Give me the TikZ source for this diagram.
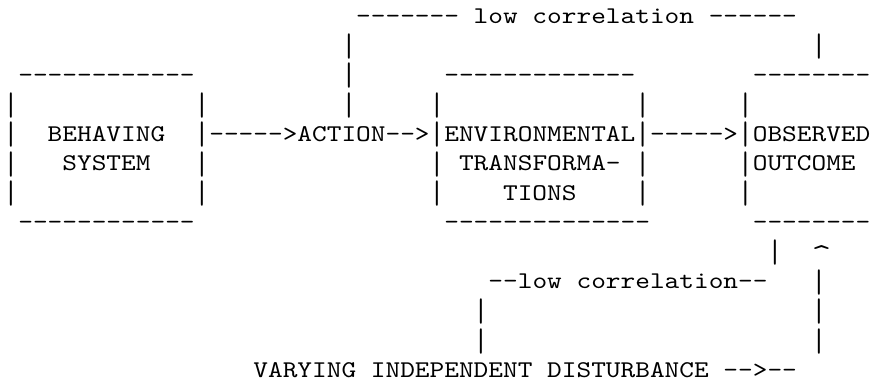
\documentclass[tikz,border=0pt]{standalone}
\usepackage{fontspec}
\usepackage{graphicx}
% typewriter face widened so one character cell is 14.69 units wide
\newfontfamily\asciifont[FakeStretch=1.166,Ligatures=TeXOff]{lmmono10-regular.otf}
% one run of characters at column #2 of text row #3
\newcommand\glyphs[4]{\node[asc] (#1) at ({3.65+14.69*(#2)},{23+29.5*((#3)-1)}) {#4};}
% a taller vertical bar, so stacked bars read as one line
\newcommand\vbar{\raisebox{-3.8pt}{\scalebox{1}[1.36]{|}}}
% a broader caret for the upward arrow head
\newcommand\caret{\raisebox{-4pt}{\scalebox{1.35}[1.2]{\textasciicircum}}}
\begin{document}
\begin{tikzpicture}[x=1pt,y=-1pt,
  asc/.style={anchor=base west,inner sep=0pt,outer sep=0pt,
    font=\asciifont\fontsize{24}{29.5}\selectfont}]
\useasboundingbox (0,0) rectangle (873,381);
% row 1: upper correlation bracket
\glyphs{topdashL}{24}{1}{-------}
\glyphs{toplow}{32}{1}{low}
\glyphs{topcorr}{36}{1}{correlation}
\glyphs{topdashR}{48}{1}{------}
% row 2
\glyphs{actUpA}{23}{2}{\vbar}
\glyphs{outUpA}{55}{2}{\vbar}
% row 3: box tops
\glyphs{sysTop}{1}{3}{------------}
\glyphs{actUpB}{23}{3}{\vbar}
\glyphs{envTop}{30}{3}{-------------}
\glyphs{outTop}{51}{3}{--------}
% row 4
\glyphs{sysLa}{0}{4}{\vbar}
\glyphs{sysRa}{13}{4}{\vbar}
\glyphs{actUpC}{23}{4}{\vbar}
\glyphs{envLa}{29}{4}{\vbar}
\glyphs{envRa}{43}{4}{\vbar}
\glyphs{outLa}{50}{4}{\vbar}
% row 5: main chain
\glyphs{sysLb}{0}{5}{\vbar}
\glyphs{sysNameA}{3}{5}{BEHAVING}
\glyphs{sysRb}{13}{5}{\vbar}
\glyphs{arrowA}{14}{5}{----->}
\glyphs{action}{20}{5}{ACTION}
\glyphs{arrowB}{26}{5}{-->}
\glyphs{envLb}{29}{5}{\vbar}
\glyphs{envNameA}{30}{5}{ENVIRONMENTAL}
\glyphs{envRb}{43}{5}{\vbar}
\glyphs{arrowC}{44}{5}{----->}
\glyphs{outLb}{50}{5}{\vbar}
\glyphs{outNameA}{51}{5}{OBSERVED}
% row 6
\glyphs{sysLc}{0}{6}{\vbar}
\glyphs{sysNameB}{4}{6}{SYSTEM}
\glyphs{sysRc}{13}{6}{\vbar}
\glyphs{envLc}{29}{6}{\vbar}
\glyphs{envNameB}{31}{6}{TRANSFORMA-}
\glyphs{envRc}{43}{6}{\vbar}
\glyphs{outLc}{50}{6}{\vbar}
\glyphs{outNameB}{51}{6}{OUTCOME}
% row 7
\glyphs{sysLd}{0}{7}{\vbar}
\glyphs{sysRd}{13}{7}{\vbar}
\glyphs{envLd}{29}{7}{\vbar}
\glyphs{envNameC}{34}{7}{TIONS}
\glyphs{envRd}{43}{7}{\vbar}
\glyphs{outLd}{50}{7}{\vbar}
% row 8: box bottoms
\glyphs{sysBot}{1}{8}{------------}
\glyphs{envBot}{30}{8}{--------------}
\glyphs{outBot}{51}{8}{--------}
% row 9
\glyphs{outDown}{52}{9}{\vbar}
\glyphs{distHead}{55}{9}{\caret}
% row 10: lower correlation bracket
\glyphs{lowlow}{33}{10}{--low}
\glyphs{lowcorr}{39}{10}{correlation--}
\glyphs{distUpA}{55}{10}{\vbar}
% rows 11-12
\glyphs{distLa}{32}{11}{\vbar}
\glyphs{distUpB}{55}{11}{\vbar}
\glyphs{distLb}{32}{12}{\vbar}
\glyphs{distUpC}{55}{12}{\vbar}
% row 13: disturbance
\glyphs{distA}{17}{13}{VARYING}
\glyphs{distB}{25}{13}{INDEPENDENT}
\glyphs{distC}{37}{13}{DISTURBANCE}
\glyphs{distArrow}{49}{13}{-->--}
\end{tikzpicture}
\end{document}
